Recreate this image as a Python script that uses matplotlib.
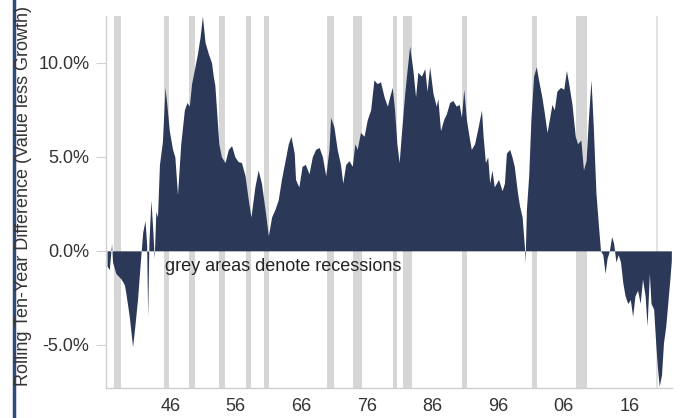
import matplotlib
matplotlib.use("Agg")
import matplotlib.pyplot as plt
from matplotlib.lines import Line2D

# rolling ten-year difference, value less growth (% p.a.)
years = [
    1936.35, 1936.7, 1937.05, 1937.2, 1937.7, 1938.5, 1939.0, 1939.25, 1939.75, 1940.25,
    1940.6, 1941.0, 1941.5, 1941.8, 1942.15, 1942.4, 1942.55, 1942.75, 1943.05, 1943.35,
    1943.55, 1943.8, 1944.05, 1944.35, 1944.8, 1945.2, 1945.5, 1945.85, 1946.35, 1946.7,
    1947.1, 1947.6, 1948.15, 1948.55, 1948.9, 1949.25, 1949.65, 1950.15, 1950.55, 1950.9,
    1951.3, 1951.8, 1952.3, 1952.55, 1952.8, 1953.05, 1953.4, 1953.8, 1954.35, 1954.85,
    1955.35, 1955.85, 1956.35, 1956.85, 1957.4, 1957.9, 1958.3, 1958.9, 1959.4, 1959.9,
    1960.45, 1960.95, 1961.45, 1961.95, 1962.45, 1962.95, 1963.5, 1964.0, 1964.4, 1964.9,
    1965.1, 1965.6, 1966.1, 1966.6, 1967.15, 1967.65, 1968.15, 1968.7, 1969.2, 1969.7,
    1970.2, 1970.45, 1970.95, 1971.45, 1971.95, 1972.3, 1972.75, 1973.25, 1973.75, 1974.15,
    1974.5, 1975.0, 1975.55, 1976.05, 1976.55, 1977.05, 1977.55, 1978.05, 1978.6, 1979.1,
    1979.45, 1979.85, 1980.2, 1980.55, 1980.9, 1981.25, 1981.75, 1982.1, 1982.5, 1983.0,
    1983.4, 1983.75, 1984.3, 1984.8, 1985.15, 1985.55, 1986.05, 1986.55, 1986.8, 1987.2,
    1987.7, 1988.1, 1988.6, 1989.1, 1989.6, 1990.05, 1990.4, 1990.75, 1991.15, 1991.55,
    1991.9, 1992.4, 1992.95, 1993.45, 1993.7, 1994.05, 1994.4, 1994.7, 1995.05, 1995.4,
    1996.05, 1996.6, 1996.95, 1997.25, 1997.75, 1998.1, 1998.45, 1998.9, 1999.25, 1999.65,
    2000.0, 2000.1, 2000.3, 2000.65, 2001.0, 2001.4, 2001.8, 2002.15, 2002.65, 2003.05,
    2003.45, 2003.85, 2004.2, 2004.55, 2004.95, 2005.5, 2006.0, 2006.4, 2006.75, 2007.25,
    2007.75, 2008.1, 2008.6, 2009.0, 2009.4, 2009.75, 2010.15, 2010.5, 2010.9, 2011.25,
    2011.6, 2011.95, 2012.3, 2012.6, 2012.95, 2013.3, 2013.6, 2013.95, 2014.3, 2014.65,
    2015.0, 2015.35, 2015.75, 2016.15, 2016.5, 2016.85, 2017.25, 2017.65, 2018.0, 2018.4,
    2018.7, 2019.05, 2019.3, 2019.7, 2020.05, 2020.3, 2020.55, 2020.9, 2021.2, 2021.55,
    2021.9, 2022.2, 2022.4,
]
diff = [
    -0.8, -1.0, 0.4, -0.6, -1.2, -1.5, -1.8, -2.3, -3.5, -5.1,
    -4.0, -2.6, -0.3, 1.0, 1.6, 0.3, -3.5, 0.5, 2.7, 1.0,
    -0.4, 2.1, 1.8, 4.6, 5.8, 8.7, 7.7, 6.4, 5.4, 5.0,
    3.0, 5.7, 7.5, 7.9, 7.7, 8.9, 9.6, 10.5, 11.4, 12.5,
    11.1, 10.5, 10.0, 9.3, 8.8, 7.5, 5.7, 5.0, 4.7, 5.4,
    5.6, 5.0, 4.75, 4.7, 4.0, 2.7, 1.8, 3.4, 4.3, 3.6,
    2.2, 0.8, 1.8, 2.2, 2.7, 3.8, 4.8, 5.7, 6.1, 5.2,
    3.8, 3.4, 4.5, 4.6, 4.1, 5.0, 5.4, 5.5, 5.0, 4.0,
    5.4, 7.1, 6.6, 5.4, 4.6, 3.6, 4.6, 4.8, 4.5, 5.7,
    5.4, 6.3, 6.1, 7.0, 7.5, 9.1, 8.9, 9.0, 8.2, 7.7,
    8.2, 8.7, 7.5, 5.7, 4.7, 6.3, 8.4, 9.6, 10.9, 9.6,
    8.2, 9.5, 9.3, 9.7, 8.5, 9.8, 8.4, 7.7, 8.1, 6.4,
    7.0, 7.3, 7.9, 8.0, 7.7, 7.8, 7.1, 8.6, 7.0, 6.1,
    5.4, 5.7, 6.6, 7.5, 6.1, 4.7, 5.0, 3.6, 4.3, 3.4,
    3.8, 3.2, 3.6, 5.2, 5.4, 5.0, 4.5, 3.2, 2.4, 1.8,
    0.2, -0.65, 2.2, 4.0, 7.1, 9.3, 9.8, 9.1, 8.2, 7.3,
    6.3, 7.1, 7.8, 7.5, 8.5, 8.7, 8.6, 9.6, 8.9, 7.8,
    6.1, 5.7, 5.9, 4.3, 4.8, 7.0, 9.1, 6.6, 3.1, 1.5,
    0.0, -0.2, -1.2, -0.4, 0.0, 0.76, 0.4, -0.6, -0.2, -0.6,
    -1.7, -2.4, -2.8, -2.6, -3.5, -2.4, -2.1, -2.8, -1.5, -2.4,
    -4.0, -1.2, -2.8, -3.1, -5.1, -6.3, -7.2, -6.6, -4.9, -4.0,
    -2.6, -1.4, -0.5,
]

# NBER recessions (start, end)
rec_start = [1937.4, 1945.1, 1948.9, 1953.5, 1957.6, 1960.3, 1969.9, 1973.9,
             1980.0, 1981.5, 1990.5, 2001.2, 2007.9]
rec_end = [1938.5, 1945.8, 1949.8, 1954.4, 1958.3, 1961.1, 1970.9, 1975.2,
           1980.5, 1982.9, 1991.2, 2001.9, 2009.5]
covid = (2020.1, 2020.35)

tick_years = [1946, 1956, 1966, 1976, 1986, 1996, 2006, 2016]
tick_labels = ["46", "56", "66", "76", "86", "96", "06", "16"]

navy = "#2b3858"
txt = "#333333"

plt.rcParams["font.family"] = ["Liberation Sans", "DejaVu Sans"]

fig = plt.figure(figsize=(6.82, 4.18), dpi=100)
ax = fig.add_axes([106 / 682, 1 - 388 / 418, 566 / 682, 372 / 418])

for s, e in zip(rec_start, rec_end):
    ax.axvspan(s, e, color="#d6d6d6", lw=0, zorder=0)
ax.axvspan(covid[0], covid[1], color="#e3e3e3", lw=0, zorder=0)

ax.fill_between(years, diff, 0, color=navy, lw=0, interpolate=True, zorder=2)

ax.set_xlim(1936.2, 2022.5)
ax.set_ylim(-7.3, 12.5)
ax.set_yticks([-5, 0, 5, 10])
ax.set_yticklabels(["-5.0%", "0.0%", "5.0%", "10.0%"])
ax.set_xticks(tick_years)
ax.set_xticklabels(tick_labels)

for side in ["top", "right"]:
    ax.spines[side].set_visible(False)
for side in ["left", "bottom"]:
    ax.spines[side].set_color("#d0d0d0")
    ax.spines[side].set_linewidth(1.0)

ax.tick_params(axis="y", length=7, color="#d0d0d0", labelsize=13, labelcolor=txt, pad=5)
ax.tick_params(axis="x", length=0, labelsize=13, labelcolor=txt, pad=7)

ax.text(1945.25, -0.83, "grey areas denote recessions", fontsize=13,
        color="#222222", va="center", ha="left", zorder=3)

fig.text(24 / 682, 1 - 196 / 418, "Rolling Ten-Year Difference (Value less Growth)",
         rotation=90, ha="center", va="center", fontsize=13, color=txt)

# dark border line at the left edge of the slide
fig.add_artist(Line2D([14 / 682, 14 / 682], [0, 1], transform=fig.transFigure,
                      color="#2f4b7a", lw=2.5))

fig.savefig("out.png", dpi=100)
